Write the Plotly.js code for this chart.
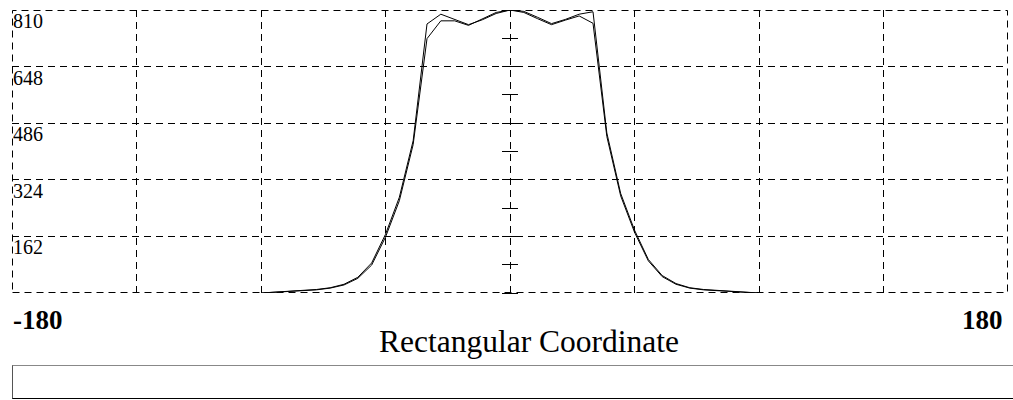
<!DOCTYPE html>
<html>
<head>
<meta charset="utf-8">
<script src="https://cdn.plot.ly/plotly-3.0.1.min.js"></script>
<style>
  html, body { margin: 0; padding: 0; background: #fff; overflow: hidden; }
  #chart { position: absolute; left: 0; top: 0; width: 1013px; height: 400px; }
  #inputbox { position: absolute; left: 12px; top: 365px; width: 1010px; height: 32px;
    border-left: 1px solid #555; border-top: 1px solid #888; border-bottom: 1px solid #000; border-right: none; background: #fff; }
</style>
</head>
<body>
<div id="chart"></div>
<div id="inputbox"></div>
<script>
// Angle (degrees)
const angles = [-90,-85,-80,-75,-70,-65,-60,-55,-50,-45,-40,-35,-30,-25,-20,-15,-10,-5,0,
                5,10,15,20,25,30,35,40,45,50,55,60,65,70,75,80,85,90];
const seriesA = [0,2,4,6,10,15,25,45,86,168,274,436,770,798,784,768,782,800,810,
                 803,785,768,781,793,772,448,278,174,92,47,25,14,9,6,4,2,0];
const seriesB = [0,2,3,5,9,14,23,42,80,160,264,425,728,779,779,766,785,803,810,
                 806,789,771,783,798,805,458,285,180,96,50,27,15,10,7,4,2,0];
const yTickVals = [0,162,324,486,648,810];
const yTickText = ['','162','324','486','648','810'];
const centerTickVals = [0,81,162,243,324,405,486,567,648,729,810];
const xTickVals = [-180,180];
const xTickText = ['-180','180'];
const xTitle = 'Rectangular Coordinate';

const serif = 'Liberation Serif, Times New Roman, serif';

const traces = [
  {x: angles, y: seriesA, type: 'scatter', mode: 'lines', line: {color: '#000', width: 1}, hoverinfo: 'skip'},
  {x: angles, y: seriesB, type: 'scatter', mode: 'lines', yaxis: 'y2', line: {color: '#000', width: 1}, hoverinfo: 'skip'}
];

const annotations = xTickVals.map((v, i) => ({
  x: v, xref: 'x', y: -0.095, yref: 'paper', text: '<b>' + xTickText[i] + '</b>', showarrow: false,
  xanchor: i === 0 ? 'left' : 'right', yanchor: 'middle',
  xshift: i === 0 ? -1 : -3,
  font: {family: serif, size: 27, color: '#000'}
}));
annotations.push({
  x: 0.519, xref: 'paper', y: -0.173, yref: 'paper', text: xTitle, showarrow: false,
  xanchor: 'center', yanchor: 'middle', font: {family: serif, size: 31.5, color: '#000'}
});

const dashStyle = '7px,5px';
const axCommon = {
  showgrid: true, gridcolor: '#000', gridwidth: 1, griddash: dashStyle,
  zeroline: false, showline: false, ticks: '', fixedrange: true
};
const plotW = 996, plotH = 283;

const layout = {
  width: 1013, height: 400,
  margin: {l: 12, r: 5, t: 10, b: 107},
  paper_bgcolor: '#fff', plot_bgcolor: '#fff',
  showlegend: false,
  xaxis: Object.assign({}, axCommon, {range: [-180, 180], tickmode: 'linear', tick0: -180, dtick: 45, showticklabels: false}),
  yaxis: Object.assign({}, axCommon, {
    range: [0, 810], tickmode: 'array', tickvals: yTickVals, ticktext: yTickText,
    ticklabelposition: 'inside bottom', ticklabelstandoff: -2, ticklabelshift: -3,
    tickfont: {family: serif, size: 20, color: '#000'}
  }),
  yaxis2: {
    overlaying: 'y', anchor: 'free', side: 'left', position: 0.5 + 8 / plotW, range: [0, 810],
    tickmode: 'array', tickvals: centerTickVals, ticks: 'outside', ticklen: 16, tickwidth: 1, tickcolor: '#000',
    showticklabels: false, showgrid: false, zeroline: false, showline: false, fixedrange: true
  },
  shapes: [{
    type: 'rect', xref: 'paper', yref: 'paper',
    x0: 0.5 / plotW, x1: 1 - 0.5 / plotW, y0: 0.5 / plotH, y1: 1 - 0.5 / plotH,
    line: {color: '#000', width: 1, dash: dashStyle}, layer: 'below'
  }],
  annotations: annotations
};

Plotly.newPlot('chart', traces, layout, {staticPlot: true, displayModeBar: false});
</script>
</body>
</html>
